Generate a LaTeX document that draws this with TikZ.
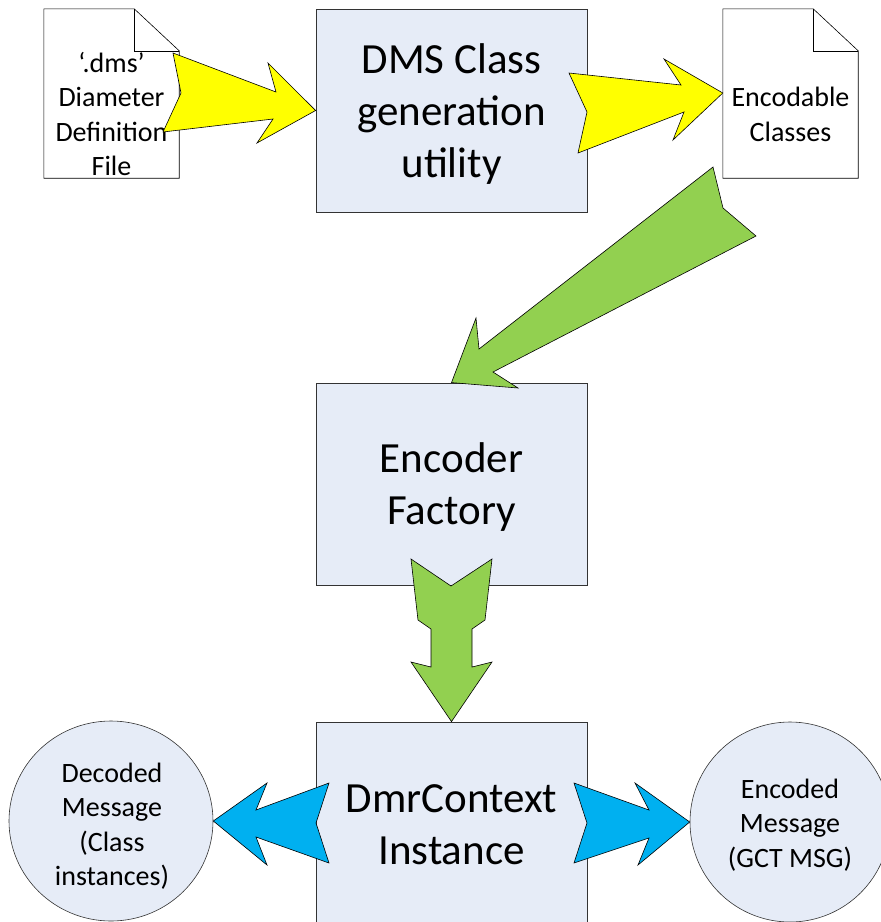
\documentclass[tikz,border=0pt]{standalone}
\usepackage{fontspec}
\setmainfont{Carlito}
\usetikzlibrary{shapes.geometric,calc}
\definecolor{boxfill}{RGB}{230,236,247}
\definecolor{ylw}{RGB}{255,255,0}
\definecolor{grn}{RGB}{146,208,80}
\definecolor{blu}{RGB}{0,176,240}
\begin{document}
\begin{tikzpicture}[x=1pt,y=-1pt,
  procbox/.style={draw=black!80,line width=0.8pt,fill=boxfill,rectangle,
    minimum width=271pt,inner sep=0pt,align=center,
    font=\fontsize{43}{52}\selectfont},
  docshape/.style={rectangle,minimum width=135pt,minimum height=169pt,inner sep=0pt},
  smalltext/.style={align=center,inner sep=0pt,font=\fontsize{28}{34.5}\selectfont},
  msgell/.style={ellipse,draw=black!80,line width=0.6pt,fill=boxfill,inner sep=0pt,
    align=center,font=\fontsize{28}{34.5}\selectfont},
  blockarrow/.style={draw=black,line width=0.6pt,line join=miter}]
\useasboundingbox (0,0) rectangle (881,922);
\clip (0,0) rectangle (881,922);

% process boxes
\node[procbox,minimum height=203pt] (dms) at (451.5,110.5) {};
\node[procbox,minimum height=202pt] (enc) at (451.5,484) {};
\node[procbox,minimum height=202pt] (dmr) at (451.5,823) {};
\node[procbox,draw=none,fill=none,minimum height=0pt] (dmstext) at (451.5,114) {DMS Class\\generation\\utility};
\node[procbox,draw=none,fill=none,minimum height=0pt] (enctext) at (451.5,487) {Encoder\\Factory};
\node[procbox,draw=none,fill=none,minimum height=0pt] (dmrtext) at (451.5,824.5) {DmrContext\\Instance};

% document shapes with folded corner
\node[docshape] (doc1) at (111.5,93.5) {};
\node[docshape] (doc2) at (790.5,93.5) {};
\foreach \d in {doc1,doc2}{
  \draw[fill=white,line width=0.6pt]
    (\d.north west) -- ($(\d.north east)+(-45,0)$) -- ($(\d.north east)+(0,42)$)
    -- (\d.south east) -- (\d.south west) -- cycle;
  \draw[line width=0.6pt]
    ($(\d.north east)+(-45,0)$) -- ($(\d.north east)+(-45,42)$) -- ($(\d.north east)+(0,42)$);
}
\node[smalltext] (doc1text) at (111.5,114) {‘.dms’\\Diameter\\Definition\\File};
\node[smalltext] (doc2text) at (790.5,114.5) {Encodable\\Classes};

% message ellipses
\node[msgell,minimum width=204pt,minimum height=200pt] (dec) at (111,821) {};
\node[msgell,minimum width=200pt,minimum height=200pt] (encm) at (790,822) {};
\node[smalltext] (dectext) at (112,826) {Decoded\\Message\\(Class\\instances)};
\node[smalltext] (encmtext) at (790,825) {Encoded\\Message\\(GCT MSG)};

% yellow block arrows
\draw[blockarrow,fill=ylw] (173,53) -- (276,92) -- (268,63) -- (dms.west)
  -- (257,143) -- (273,119) -- (163,132) -- (181,93) -- cycle;
\draw[blockarrow,fill=ylw] (569,73) -- (681,85) -- (664,59) -- (doc2.west |- 0,93)
  -- (673,140) -- (684,112) -- (578,153) -- (587,112) -- cycle;

% green block arrows
\draw[blockarrow,fill=grn] (713,167) -- (479,349) -- (476,318) -- (enc.north)
  -- (518,388) -- (493,372) -- (756,236) -- (723,208) -- cycle;
\draw[blockarrow,fill=grn] (411,559) -- (451,586) -- (492,559) -- (485,620)
  -- (472,629) -- (472,667) -- (492,662) -- (dmr.north) -- (411,662)
  -- (431,667) -- (431,629) -- (418,620) -- cycle;

% blue block arrows
\draw[blockarrow,fill=blu] (dec.east) -- (267,783) -- (256,810) -- (329,783)
  -- (316,823) -- (329,863) -- (256,837) -- (267,865) -- cycle;
\draw[blockarrow,fill=blu] (encm.west) -- (638,865) -- (649,838) -- (574,863)
  -- (587,823) -- (574,783) -- (649,810) -- (635,783) -- cycle;
\end{tikzpicture}
\end{document}
